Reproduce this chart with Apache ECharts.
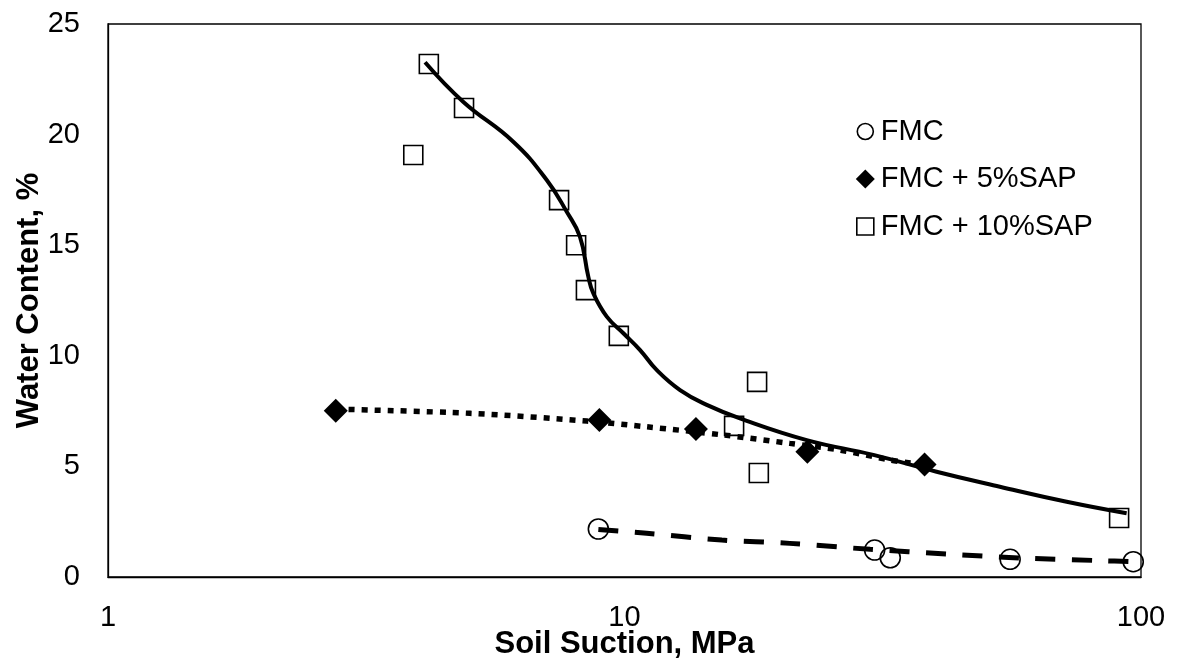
<!DOCTYPE html>
<html>
<head>
<meta charset="utf-8">
<script src="https://cdn.jsdelivr.net/npm/echarts@6/dist/echarts.min.js"></script>
<style>
html,body{margin:0;padding:0;background:#fff;overflow:hidden;}
#chart{width:1181px;height:661px;}
</style>
</head>
<body>
<div id="chart"></div>
<script>
// ---- Data ----
const seriesNames = ['FMC', 'FMC + 5%SAP', 'FMC + 10%SAP'];

// FMC (open circles)
const fmcX = [8.9, 30.5, 32.7, 55.8, 96.6];
const fmcY = [2.17, 1.22, 0.87, 0.80, 0.69];

// FMC + 5%SAP (filled diamonds)
const sap5X = [2.76, 8.94, 13.75, 22.6, 38.1];
const sap5Y = [7.52, 7.10, 6.69, 5.66, 5.09];

// FMC + 10%SAP (open squares)
const sap10X = [4.18, 4.89, 3.90, 7.47, 8.06, 8.42, 9.75, 16.3, 18.06, 18.2, 90.7];
const sap10Y = [23.19, 21.2, 19.08, 17.04, 15.0, 12.97, 10.9, 6.83, 8.82, 4.70, 2.67];

// Trend line for FMC (dashed)
const fmcTrendX = [8.9, 11.04, 15.43, 20.9, 29.9, 42.0, 58.3, 83.3, 96.5];
const fmcTrendY = [2.15, 1.98, 1.67, 1.52, 1.25, 1.04, 0.86, 0.74, 0.69];

// Trend line for FMC + 5%SAP (dotted)
const sap5TrendX = [2.76, 5.02, 8.46, 11.04, 15.54, 20.9, 26.1, 32.7, 36.2];
const sap5TrendY = [7.59, 7.40, 7.05, 6.79, 6.42, 6.04, 5.74, 5.29, 5.14];

// Fitted curve for FMC + 10%SAP (solid)
const sap10TrendX = [4.11, 4.87, 6.09, 7.07, 7.73, 8.20, 8.51, 8.70, 9.24, 9.95, 10.72, 11.54, 12.81, 14.43, 16.73, 22.53, 30.32, 40.2, 53.3, 71.8, 93.8];
const sap10TrendY = [23.27, 21.49, 19.68, 17.95, 16.51, 15.38, 13.58, 12.83, 11.77, 11.02, 10.26, 9.36, 8.45, 7.78, 7.17, 6.19, 5.52, 4.76, 4.08, 3.40, 2.88];

// Axis ticks
const xTicks = [1, 10, 100];
const yMin = 0, yMax = 25, yStep = 5;

const zip = (xs, ys) => xs.map((x, i) => [x, ys[i]]);

const FONT = '"Liberation Sans", Arial, sans-serif';

// Legend icons (stray move-to points give every icon the same box so sizes match the reference)
const ICON_CIRCLE = 'path://M-10.5,-10.5M10.5,10.5M8,0A8,8,0,1,1,-8,0A8,8,0,1,1,8,0Z';
const ICON_DIAMOND = 'path://M-10.5,-10.5M10.5,10.5M0,-9.5L9.5,0L0,9.5L-9.5,0Z';
const ICON_SQUARE = 'path://M-10.5,-10.5M10.5,10.5M-8.5,-8.5L8.5,-8.5L8.5,8.5L-8.5,8.5Z';

const chart = echarts.init(document.getElementById('chart'), null, {renderer: 'canvas'});

const option = {
  animation: false,
  backgroundColor: '#fff',
  textStyle: {fontFamily: FONT, color: '#000'},
  grid: {
    left: 108, right: 40, top: 24, bottom: 84,
    outerBoundsMode: 'none', containLabel: false,
    show: true, borderColor: '#000', borderWidth: 1.3, backgroundColor: 'transparent'
  },
  legend: {
    orient: 'vertical',
    left: 849, top: 112,
    itemWidth: 21, itemHeight: 21,
    itemGap: 18.5,
    textStyle: {fontFamily: FONT, fontSize: 29, color: '#000', padding: [0, 0, 0, 0]},
    data: [
      {name: seriesNames[0], icon: ICON_CIRCLE, itemStyle: {color: 'rgba(0,0,0,0)', borderColor: '#000', borderWidth: 1.6, opacity: 1}},
      {name: seriesNames[1], icon: ICON_DIAMOND, itemStyle: {color: '#000', borderWidth: 0, opacity: 1}},
      {name: seriesNames[2], icon: ICON_SQUARE, itemStyle: {color: 'rgba(0,0,0,0)', borderColor: '#000', borderWidth: 1.6, opacity: 1}}
    ]
  },
  xAxis: {
    type: 'log', logBase: 10, min: 1, max: 100,
    name: 'Soil Suction, MPa', nameLocation: 'middle', nameGap: 52, nameMoveOverlap: false,
    nameTextStyle: {fontFamily: FONT, fontSize: 31, fontWeight: 'bold', color: '#000'},
    axisLine: {show: true, lineStyle: {color: '#000', width: 1.3}},
    axisTick: {show: false},
    splitLine: {show: false},
    minorTick: {show: false},
    axisLabel: {
      fontFamily: FONT, fontSize: 29, color: '#000', margin: 26,
      formatter: v => (xTicks.indexOf(Math.round(v)) >= 0 ? String(Math.round(v)) : '')
    }
  },
  yAxis: {
    type: 'value', min: yMin, max: yMax, interval: yStep,
    name: 'Water Content, %', nameLocation: 'middle', nameGap: 63, nameRotate: 90, nameMoveOverlap: false,
    nameTextStyle: {fontFamily: FONT, fontSize: 31, fontWeight: 'bold', color: '#000'},
    axisLine: {show: true, lineStyle: {color: '#000', width: 1.3}},
    axisTick: {show: false},
    splitLine: {show: false},
    axisLabel: {fontFamily: FONT, fontSize: 29, color: '#000', margin: 28}
  },
  series: [
    {
      name: 'FMC trend', type: 'line', data: zip(fmcTrendX, fmcTrendY),
      showSymbol: false, symbol: 'none', smooth: 0.3, z: 2, silent: true,
      lineStyle: {color: '#000', width: 5, type: [20, 16.5], cap: 'butt'}
    },
    {
      name: '5% trend', type: 'line', data: zip(sap5TrendX, sap5TrendY),
      showSymbol: false, symbol: 'none', smooth: 0.3, z: 2, silent: true,
      lineStyle: {color: '#000', width: 5.5, type: [6, 7], cap: 'butt'}
    },
    {
      name: '10% trend', type: 'line', data: zip(sap10TrendX, sap10TrendY),
      showSymbol: false, symbol: 'none', smooth: 0.45, z: 2, silent: true,
      lineStyle: {color: '#000', width: 4}
    },
    {
      name: seriesNames[0], type: 'scatter', data: zip(fmcX, fmcY),
      symbol: 'circle', symbolSize: 20, z: 5,
      itemStyle: {color: 'rgba(0,0,0,0)', borderColor: '#000', borderWidth: 1.6, opacity: 1}
    },
    {
      name: seriesNames[1], type: 'scatter', data: zip(sap5X, sap5Y),
      symbol: 'diamond', symbolSize: 24, z: 5,
      itemStyle: {color: '#000', borderColor: '#000', borderWidth: 0, opacity: 1}
    },
    {
      name: seriesNames[2], type: 'scatter', data: zip(sap10X, sap10Y),
      symbol: 'rect', symbolSize: 19, z: 5,
      itemStyle: {color: 'rgba(0,0,0,0)', borderColor: '#000', borderWidth: 1.6, opacity: 1}
    }
  ]
};
chart.setOption(option);
</script>
</body>
</html>
